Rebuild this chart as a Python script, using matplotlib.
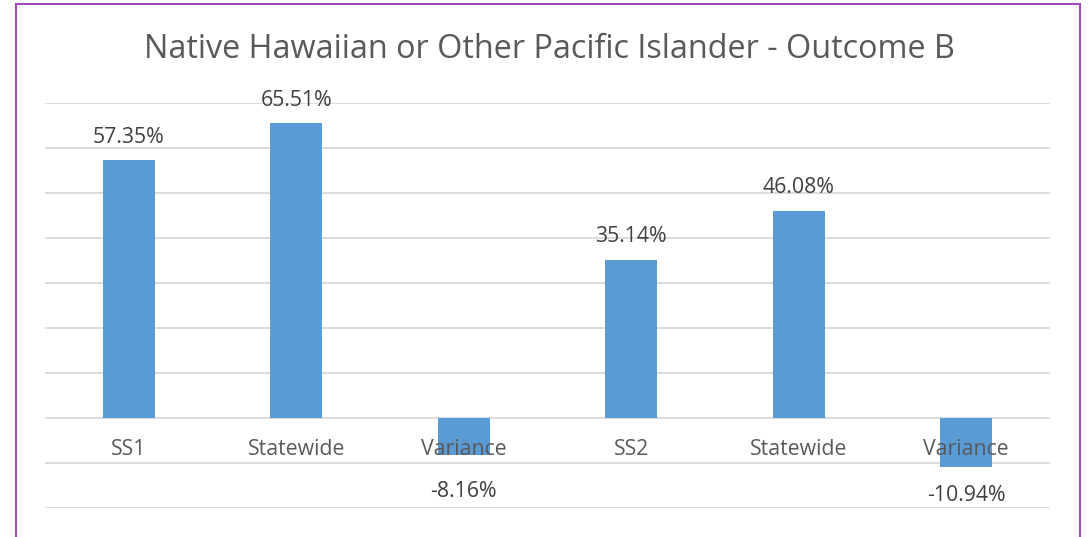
import matplotlib.pyplot as plt
from matplotlib.patches import Rectangle

categories = ['SS1', 'Statewide', 'Variance', 'SS2', 'Statewide', 'Variance']
values = [57.35, 65.51, -8.16, 35.14, 46.08, -10.94]
title = 'Native Hawaiian or Other Pacific Islander - Outcome B'

plt.rcParams['font.family'] = ['Open Sans', 'DejaVu Sans']

fig = plt.figure(figsize=(10.89, 5.37), dpi=100)
ax = fig.add_axes([45 / 1089, 1 - 508 / 537, 1005 / 1089, 405 / 537])

x = range(len(categories))
ax.bar(x, values, width=0.31, color='#5B9BD5', zorder=3)

ax.set_xlim(-0.5, len(categories) - 0.5)
ax.set_ylim(-20, 70)
ax.set_yticks(range(-20, 71, 10))
ax.yaxis.grid(True, color='#D9D9D9', linewidth=1.3, zorder=0)
ax.tick_params(left=False, bottom=False, labelleft=False, labelbottom=False)
for s in ax.spines.values():
    s.set_visible(False)

# category labels sit just under the zero line
for i, c in enumerate(categories):
    ax.text(i, -7.1, c, ha='center', va='center', fontsize=15.3,
            color='#595959', zorder=4)

# data labels
for i, v in enumerate(values):
    if v >= 0:
        ax.annotate(f'{v:.2f}%', (i, v), xytext=(0, 16.5), textcoords='offset points',
                    ha='center', va='center', fontsize=15.3, color='#404040')
    else:
        ax.text(i, min(-16.4, v - 6.2), f'{v:.2f}%', ha='center', va='center',
                fontsize=15.3, color='#404040')

fig.text(549 / 1089, 1 - 49 / 537, title, ha='center', va='center',
         fontsize=23.3, color='#595959')

# purple chart border
fig.patches.append(Rectangle((16 / 1089, -0.05), 1064 / 1089, 1.05 - 4 / 537,
                             transform=fig.transFigure, fill=False,
                             edgecolor='#9E48B9', linewidth=1.5))

fig.savefig('out.png', dpi=100)
